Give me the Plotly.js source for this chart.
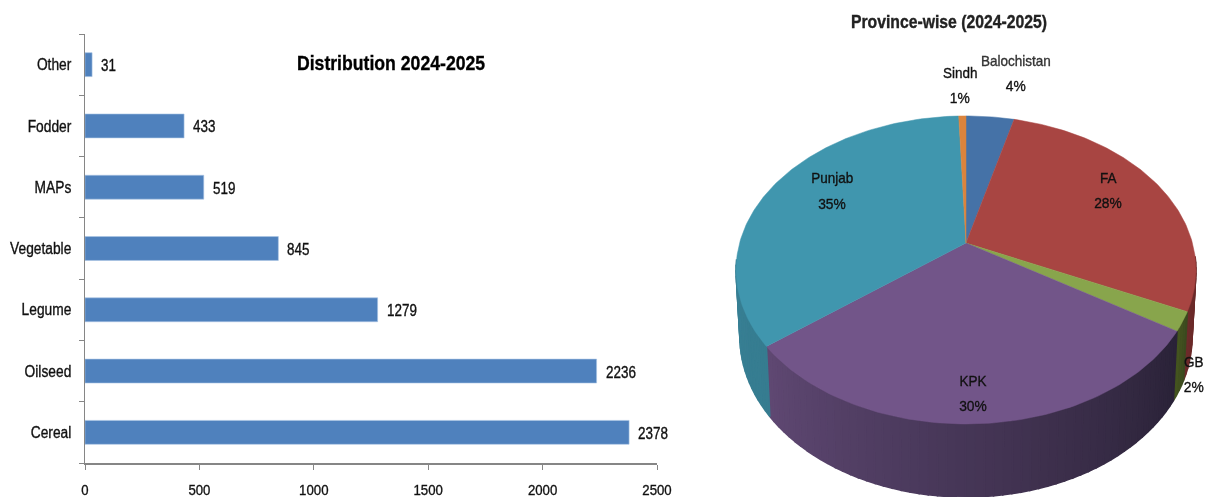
<!DOCTYPE html>
<html>
<head>
<meta charset="utf-8">
<script src="https://cdn.plot.ly/plotly-3.0.1.min.js"></script>
<style>
html,body{margin:0;padding:0;background:#fff;overflow:hidden}
#chart{width:1206px;height:497px;filter:blur(0.45px)}
</style>
</head>
<body>
<div id="chart"></div>
<script>
// Bar chart data
const barCategories = ["Cereal","Oilseed","Legume","Vegetable","MAPs","Fodder","Other"];
const barValues = [2378,2236,1279,845,519,433,31];
const xTicks = [0,500,1000,1500,2000,2500];

// Pie chart data (clockwise from 12 o'clock)
const pieLabels = ["Balochistan","FA","GB","KPK","Punjab","Sindh"];
const pieShares = [4,28,2,30.4,35,0.6];
const piePercentText = ["4%","28%","2%","30%","35%","1%"];
const faceColors = ["#4572a7","#a84542","#88a54c","#725589","#4096ae","#db843d"];
const wallColorsLight = ["#2f4d73","#6d2b2a","#46561f","#5f4873","#3b8a9f","#9a5c29"];
const wallColorsDark  = ["#2f4d73","#4f1a1a","#39471f","#2a2237","#367c90","#9a5c29"];

const FONT = '"Liberation Sans",sans-serif';
const W = 1206, H = 497;

// Pie projection: tilted disc, its rim seen through a perspective
const P = {cx:966, cy:243, A:226.4, B:149.3, k:0.175};
const B2 = {cx:966, cy:337, rx:226, ry:160};
function rad(d){return d*Math.PI/180;}
function topPt(deg){
  const u=Math.sin(rad(deg)), v=Math.cos(rad(deg)), w=1+P.k*v;
  return [P.cx+P.A*u/w, P.cy-P.B*v/w];
}
function lowPt(deg){
  const t=topPt(deg);
  const a=Math.atan2((t[0]-P.cx)/230,(t[1]-270)/154);
  return [B2.cx+B2.rx*Math.sin(a), B2.cy+B2.ry*Math.cos(a)];
}
function mix(c1,c2,f){
  const p=c=>[1,3,5].map(i=>parseInt(c.substr(i,2),16));
  const a=p(c1),b=p(c2);
  return "rgb("+a.map((v,i)=>Math.round(v+(b[i]-v)*f)).join(",")+")";
}
function poly(xs,ys,color,lw){
  return {type:"scatter",mode:"lines",x:xs,y:ys,xaxis:"x2",yaxis:"y2",fill:"toself",
    fillcolor:color,line:{color:color,width:lw},hoverinfo:"skip",showlegend:false};
}

const traces = [];
traces.push({type:"bar",orientation:"h",y:barCategories,x:barValues,
  marker:{color:"#4f81bd",line:{color:"#a9c4e4",width:0.6}},hoverinfo:"skip",showlegend:false,width:0.39});

const total = pieShares.reduce((a,b)=>a+b,0);
let start = 0;
const wallTraces=[], faceTraces=[];
pieShares.forEach((s,i)=>{
  const sweep = s/total*360, end = start+sweep;
  const n = Math.max(1,Math.round(sweep/2));
  for(let j=0;j<n;j++){
    const d0=start+sweep*j/n, d1=start+sweep*(j+1)/n, mid=(d0+d1)/2;
    if(mid<96||mid>264) continue;
    const f=(mid-start)/sweep;
    const a=topPt(d0),b=topPt(d1),c=lowPt(d1),d=lowPt(d0);
    wallTraces.push(poly([a[0],b[0],c[0],d[0],a[0]],[a[1],b[1],c[1],d[1],a[1]],
      mix(wallColorsDark[i],wallColorsLight[i],f),1.6));
  }
  const xs=[P.cx],ys=[P.cy];
  const m=Math.max(2,Math.ceil(sweep));
  for(let j=0;j<=m;j++){const p=topPt(start+sweep*j/m);xs.push(p[0]);ys.push(p[1]);}
  xs.push(P.cx);ys.push(P.cy);
  faceTraces.push(poly(xs,ys,faceColors[i],0.5));
  start=end;
});
traces.push(...wallTraces,...faceTraces);

// Annotations
const annotations=[];
const squeeze=[];      // horizontal squeeze for each annotation
barValues.forEach((v,i)=>{
  annotations.push({x:v,y:barCategories[i],xref:"x",yref:"y",text:String(v),
    showarrow:false,xanchor:"left",xshift:7,yshift:-1,font:{family:FONT,size:16,color:"#111"}});
  squeeze.push(0.84);
});
function label(text,x,y,size,weight,color,sq){
  annotations.push({x:x/W,y:1-y/H,xref:"paper",yref:"paper",text:text,showarrow:false,
    xanchor:"center",yanchor:"middle",font:{family:FONT,size:size,color:color||"#111",weight:weight||400}});
  squeeze.push(sq);
}
label("Distribution 2024-2025",391,62.5,21,700,"#000",0.84);
label("Province-wise (2024-2025)",949,21.5,17.5,700,"#222",0.9);
const labelPos = [[1016,60,85],[1108,177,202],[1194,361,386],[973,380,405],[832,177,203],[960,72,98]];
pieLabels.forEach((n,i)=>{
  label(n,labelPos[i][0],labelPos[i][1],15,400,i==0?"#333":"#111",0.9);
  label(piePercentText[i],labelPos[i][0],labelPos[i][2],15,400,"#111",0.92);
});

const layout={
  width:W,height:H,margin:{l:0,r:0,t:0,b:0},paper_bgcolor:"#fff",plot_bgcolor:"rgba(0,0,0,0)",
  showlegend:false,annotations:annotations,font:{family:FONT,size:16,color:"#111"},
  xaxis:{domain:[85/W,657/W],range:[0,2500],tickvals:xTicks,ticks:"outside",ticklen:5,tickcolor:"#868686",
    showline:true,linecolor:"#868686",linewidth:1.5,showgrid:false,zeroline:false,anchor:"y",
    tickfont:{family:FONT,size:15,color:"#111"},ticklabelstandoff:7},
  yaxis:{domain:[(H-463)/H,(H-34)/H],type:"category",categoryorder:"array",categoryarray:barCategories,
    range:[-0.5,6.5],tickson:"boundaries",ticks:"outside",ticklen:5,tickcolor:"#868686",
    showline:true,linecolor:"#868686",linewidth:1.5,showgrid:false,zeroline:false,anchor:"x",
    tickfont:{family:FONT,size:16,color:"#111"},ticklabelstandoff:9},
  xaxis2:{domain:[0,1],range:[0,W],visible:false,anchor:"y2",fixedrange:true},
  yaxis2:{domain:[0,1],range:[H,0],visible:false,anchor:"x2",fixedrange:true}
};

// The reference uses a condensed face: narrow the real text after drawing
function narrow(el,s){
  const len=el.getComputedTextLength();
  el.setAttribute("lengthAdjust","spacingAndGlyphs");
  el.setAttribute("textLength",(len*s).toFixed(1));
  el.style.stroke=el.style.fill||"#111";
  el.style.strokeWidth="0.35px";
}
Plotly.newPlot("chart",traces,layout,{displayModeBar:false,staticPlot:true}).then(gd=>{
  gd.querySelectorAll(".xtick text").forEach(t=>narrow(t,0.88));
  gd.querySelectorAll(".ytick text").forEach(t=>narrow(t,0.86));
  gd.querySelectorAll(".annotation").forEach(g=>{
    const i=+g.getAttribute("data-index");
    const t=g.querySelector("text");
    if(!t) return;
    if(i<barValues.length){
      const b=t.getBBox();
      t.setAttribute("x",b.x);
      t.setAttribute("text-anchor","start");
    }
    narrow(t,squeeze[i]);
  });
});
</script>
</body>
</html>
